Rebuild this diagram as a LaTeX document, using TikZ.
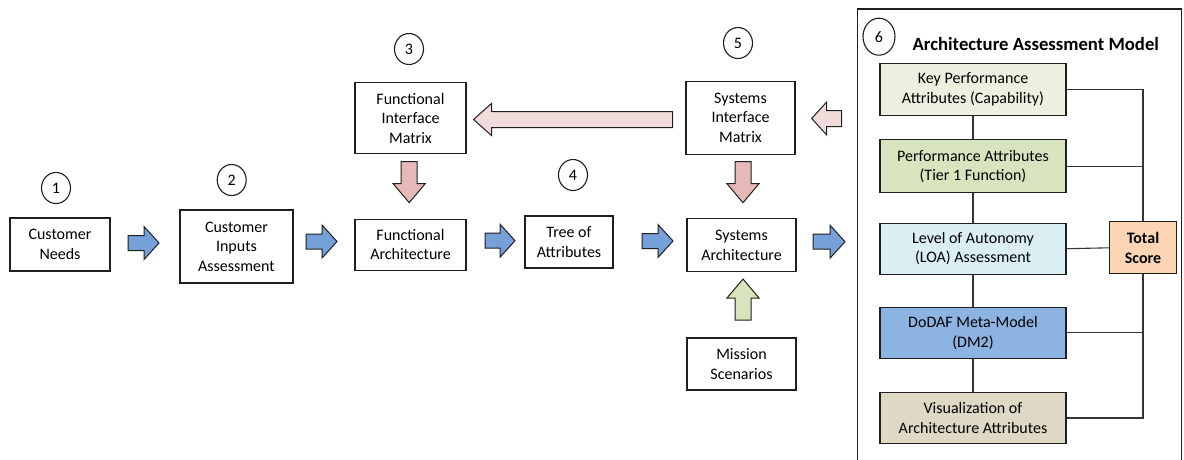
\documentclass[tikz,border=0pt]{standalone}
\usepackage{fontspec}
\setmainfont{Carlito}
\usetikzlibrary{shapes.geometric}

\definecolor{flowblue}{HTML}{76A0D8}
\definecolor{pinkdark}{HTML}{E6B9B8}
\definecolor{pinklight}{HTML}{F2DCDB}
\definecolor{greenlight}{HTML}{D7E4BD}
\definecolor{kpafill}{HTML}{EBF1DE}
\definecolor{pafill}{HTML}{D7E4BD}
\definecolor{loafill}{HTML}{DBEEF4}
\definecolor{dmfill}{HTML}{8DB3E2}
\definecolor{visfill}{HTML}{DDD9C4}
\definecolor{totfill}{HTML}{FCD5B5}
\definecolor{edge}{HTML}{1F1F1F}

% block arrow: style, tail point, angle, length, shaft width, head width, head length
\newcommand\blockarrow[7]{%
  \draw[#1, shift={#2}, rotate=#3]
    (0,-#5/2) -- (#4-#7,-#5/2) -- (#4-#7,-#6/2) -- (#4,0)
    -- (#4-#7,#6/2) -- (#4-#7,#5/2) -- (0,#5/2) -- cycle;}

\tikzset{
  box/.style={draw=edge, line width=1.1pt, fill=white, align=center, inner sep=0pt,
    font=\fontsize{16}{19.5}\selectfont, text=black},
  stepnum/.style={draw=edge, line width=1.1pt, ellipse, inner sep=0pt,
    minimum width=29, minimum height=31, font=\fontsize{16}{19}\selectfont},
  barrow/.style={draw=edge, line width=1pt, line join=miter},
  link/.style={draw=edge!90, line width=1.1pt},
}

\begin{document}
\begin{tikzpicture}[x=1pt,y=-1pt]
\useasboundingbox[fill=white] (0,0) rectangle (1184,459);

% main process chain
\node[box, minimum width=100, minimum height=53] (cn)  at (60,244.5)   {Customer\\Needs};
\node[box, minimum width=113, minimum height=73] (cia) at (236.5,246.5) {Customer\\Inputs\\Assessment};
\node[box, minimum width=111, minimum height=71] (fim) at (410.5,118.3) {Functional\\Interface\\Matrix};
\node[box, minimum width=111, minimum height=51] (fa)  at (410.5,244.7) {Functional\\Architecture};
\node[box, minimum width=88,  minimum height=52] (toa) at (569,242)     {Tree of\\Attributes};
\node[box, minimum width=109, minimum height=73] (sim) at (740.5,117.7) {Systems\\Interface\\Matrix};
\node[box, minimum width=109, minimum height=53] (sa)  at (741.5,245.3) {Systems\\Architecture};
\node[box, minimum width=109, minimum height=52] (ms)  at (741.5,364)   {Mission\\Scenarios};

% step numbers
\node[stepnum] (n1) at (56,188)   {1};
\node[stepnum] (n2) at (231.7,180) {2};
\node[stepnum] (n3) at (409,49)   {3};
\node[stepnum] (n4) at (573,175)  {4};
\node[stepnum] (n5) at (738,43)   {5};
\node[stepnum, minimum width=32, minimum height=37] (n6) at (879,36.7) {6};

% flow arrows
\blockarrow{barrow, fill=flowblue}{(128,243)}{0}{31}{15}{33}{15}
\blockarrow{barrow, fill=flowblue}{(306,241.5)}{0}{31}{15}{33}{15}
\blockarrow{barrow, fill=flowblue}{(485,240.7)}{0}{30}{15}{33}{15}
\blockarrow{barrow, fill=flowblue}{(642,241)}{0}{31}{15}{33}{15}
\blockarrow{barrow, fill=flowblue}{(813,241.7)}{0}{32}{15}{33}{15}
\blockarrow{barrow, fill=pinklight}{(672.5,119.5)}{180}{199}{16}{32}{18}
\blockarrow{barrow, fill=pinklight}{(841.7,118.5)}{180}{30}{16}{33}{15}
\blockarrow{barrow, fill=pinkdark}{(409.2,161.7)}{-90}{41}{16}{32}{19}
\blockarrow{barrow, fill=pinkdark}{(743,161.7)}{-90}{41}{16}{32}{19}
\blockarrow{barrow, fill=greenlight}{(743,320)}{90}{41}{16}{32}{19}

% assessment model frame
\draw[edge, line width=1.1pt] (857.5,460) -- (857.5,9) -- (1181.5,9) -- (1181.5,460);
\node[font=\bfseries\fontsize{18.7}{22}\selectfont, text=black] (title) at (1035.8,44)
  {Architecture Assessment Model};

\node[box, fill=kpafill, minimum width=186, minimum height=52] (kpa) at (973,89.2)
  {Key Performance\\Attributes (Capability)};
\node[box, fill=pafill,  minimum width=186, minimum height=53] (pa)  at (973,166.3)
  {Performance Attributes\\(Tier 1 Function)};
\node[box, fill=loafill, minimum width=186, minimum height=51] (loa) at (973,248.7)
  {Level of Autonomy\\(LOA) Assessment};
\node[box, fill=dmfill,  minimum width=186, minimum height=51] (dm2) at (973,332.8)
  {DoDAF Meta-Model\\(DM2)};
\node[box, fill=visfill, minimum width=186, minimum height=51] (vis) at (973,418)
  {Visualization of\\Architecture Attributes};
\node[box, fill=totfill, minimum width=67, minimum height=52,
  font=\bfseries\fontsize{16}{19.5}\selectfont] (tot) at (1143,247.8) {Total\\Score};

% model links
\draw[link] (kpa) -- (pa);
\draw[link] (pa) -- (loa);
\draw[link] (loa) -- (dm2);
\draw[link] (dm2) -- (vis);
\draw[link] (kpa.east) -| (tot.north);
\draw[link] (pa.east) -- (pa.east -| tot.north);
\draw[link] (loa.east) -- (tot.west);
\draw[link] (vis.east) -| (tot.south);
\draw[link] (dm2.east) -- (dm2.east -| tot.south);
\end{tikzpicture}
\end{document}
